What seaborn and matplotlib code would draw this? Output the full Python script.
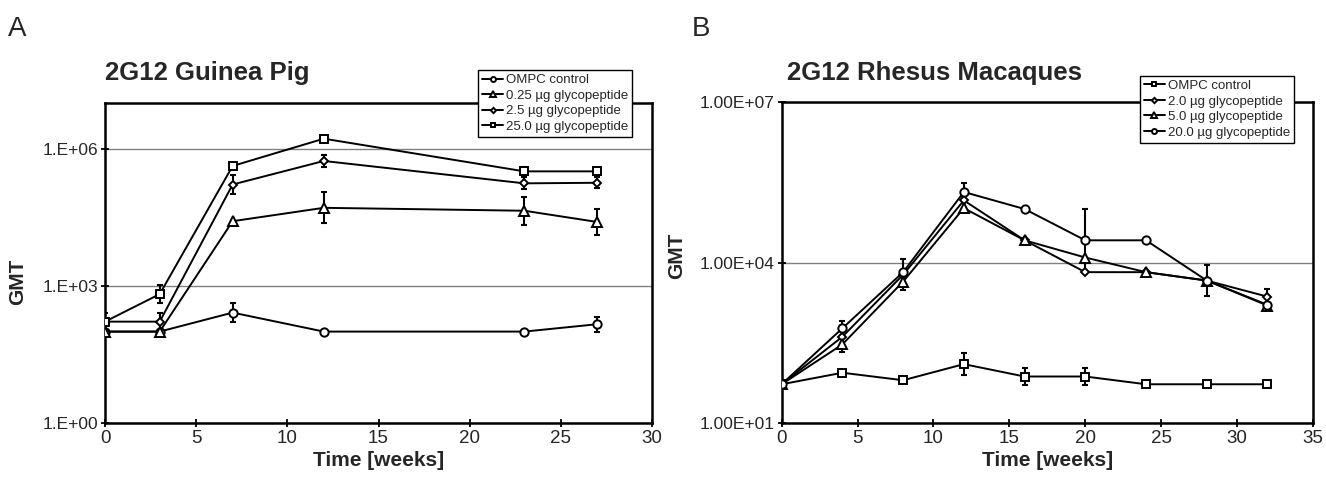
import matplotlib.pyplot as plt
import seaborn as sns
import numpy as np

# Panel A: guinea pig
weeks_a = [0, 3, 7, 12, 23, 27]
labels_a = ['OMPC control', '0.25 µg glycopeptide', '2.5 µg glycopeptide', '25.0 µg glycopeptide']
gmt_a = [
    [100, 100, 260, 100, 100, 145],
    [100, 100, 2.6e4, 5.1e4, 4.4e4, 2.5e4],
    [165, 165, 1.65e5, 5.4e5, 1.75e5, 1.8e5],
    [165, 660, 4.2e5, 1.66e6, 3.2e5, 3.2e5],
]
# error bar half widths in log10 units
err_a = [
    [0, 0, 0.21, 0, 0, 0.16],
    [0, 0, 0, 0.34, 0.31, 0.28],
    [0, 0.2, 0.2, 0.125, 0.13, 0.12],
    [0.2, 0.2, 0, 0, 0.1, 0.08],
]

# Panel B: rhesus macaques
weeks_b = [0, 4, 8, 12, 16, 20, 24, 28, 32]
labels_b = ['OMPC control', '2.0 µg glycopeptide', '5.0 µg glycopeptide', '20.0 µg glycopeptide']
gmt_b = [
    [53, 87, 63, 126, 74, 74, 53, 53, 53],
    [53, 410, 5900, 1.45e5, 2.6e4, 6600, 6600, 4600, 2300],
    [53, 295, 4400, 1.04e5, 2.6e4, 1.24e4, 6600, 4600, 1570],
    [53, 590, 6600, 2.08e5, 1.0e5, 2.6e4, 2.6e4, 4600, 1620],
]
err_b = [
    [0, 0, 0, 0.2, 0.15, 0.15, 0, 0, 0],
    [0, 0, 0, 0, 0, 0, 0, 0, 0.15],
    [0, 0.15, 0.15, 0, 0, 0, 0, 0, 0],
    [0, 0.14, 0.24, 0.17, 0, 0.59, 0, 0.29, 0],
]

sns.set_style('white')
plt.rcParams['font.family'] = ['Liberation Sans', 'DejaVu Sans']

marker_size = {'o': 6, '^': 6.5, 'D': 4.5, 's': 6}


def draw_panel(ax, weeks, gmts, errs, labels, markers):
    x = np.array(weeks)
    for y, e, lab, m in zip(gmts, errs, labels, markers):
        y = np.array(y, dtype=float)
        e = np.array(e, dtype=float)
        mask = e > 0
        lo = y - y / 10 ** e
        hi = y * 10 ** e - y
        ax.errorbar(x[mask], y[mask], yerr=[lo[mask], hi[mask]], fmt='none',
                    ecolor='k', elinewidth=1.5, capsize=2.5, capthick=1.5, zorder=2)
        sns.lineplot(x=x, y=y, ax=ax, color='k', lw=1.4, marker=m,
                     markersize=marker_size[m], markerfacecolor='white',
                     markeredgecolor='k', markeredgewidth=1.4, label=lab,
                     zorder=3, legend=False)


def style_axes(ax, yticks, ylabels, xmax, ylim):
    ax.set_yscale('log')
    ax.set_ylim(*ylim)
    ax.set_xlim(0, xmax)
    ax.set_xticks(range(0, xmax + 1, 5))
    ax.set_yticks(yticks)
    ax.set_yticklabels(ylabels)
    ax.minorticks_off()
    ax.yaxis.grid(True, color='#808080', lw=1)
    ax.xaxis.grid(False)
    for s in ax.spines.values():
        s.set_color('k')
        s.set_linewidth(1.8)
    ax.tick_params(axis='both', direction='inout', length=6, width=1.3, color='k',
                   left=True, bottom=True, pad=2)
    ax.tick_params(axis='y', labelsize=12.5)
    ax.tick_params(axis='x', labelsize=13.5)
    ax.set_xlabel('Time [weeks]', fontsize=15, fontweight='bold', labelpad=3)
    ax.set_ylabel('GMT', fontsize=15, fontweight='bold')


fig = plt.figure(figsize=(13.26, 4.83), dpi=100)
ax_a = fig.add_axes([0.0792, 0.1242, 0.4125, 0.6625])
ax_b = fig.add_axes([0.5895, 0.1242, 0.4007, 0.6646])

draw_panel(ax_a, weeks_a, gmt_a, err_a, labels_a, ['o', '^', 'D', 's'])
style_axes(ax_a, [1, 1e3, 1e6], ['1.E+00', '1.E+03', '1.E+06'], 30, (1, 1e7))
ax_a.yaxis.set_label_coords(-0.142, 0.44)

draw_panel(ax_b, weeks_b, gmt_b, err_b, labels_b, ['s', 'D', '^', 'o'])
style_axes(ax_b, [10, 1e4, 1e7], ['1.00E+01', '1.00E+04', '1.00E+07'], 35, (10, 1e7))
ax_b.yaxis.set_label_coords(-0.179, 0.52)

for ax, anchor in [(ax_a, (0.3605, 0.855)), (ax_b, (0.8597, 0.843))]:
    leg = ax.legend(loc='upper left', bbox_to_anchor=anchor, bbox_transform=fig.transFigure,
                    fontsize=9.5, frameon=True, fancybox=False, framealpha=1,
                    edgecolor='k', borderpad=0.3, handlelength=1.6, handletextpad=0.2,
                    labelspacing=0.25, borderaxespad=0, markerscale=0.6)
    leg.get_frame().set_linewidth(1.0)
    leg.set_zorder(10)

fig.text(105 / 1326, 1 - 80 / 483, '2G12 Guinea Pig', fontsize=18.5, fontweight='bold')
fig.text(787 / 1326, 1 - 80 / 483, '2G12 Rhesus Macaques', fontsize=18.5, fontweight='bold')
fig.text(8 / 1326, 1 - 36 / 483, 'A', fontsize=20)
fig.text(692 / 1326, 1 - 36 / 483, 'B', fontsize=20)

fig.savefig('out.png', dpi=100)
